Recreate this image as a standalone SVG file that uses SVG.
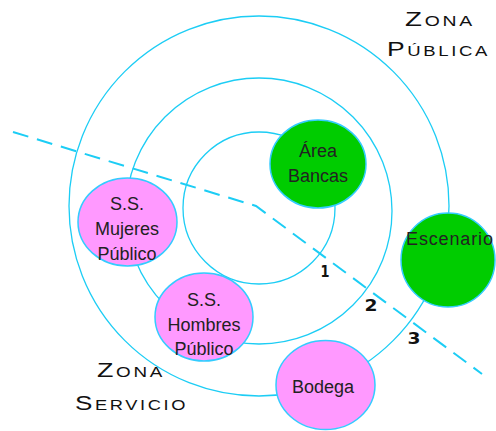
<svg xmlns="http://www.w3.org/2000/svg" width="496" height="431" viewBox="0 0 496 431">
<style>
.ring{fill:none;stroke:#1ccdf5;stroke-width:1.3}
.dash{fill:none;stroke:#1ccdf5;stroke-width:2;stroke-dasharray:16 9}
.green{fill:#00cc00;stroke:#33ccff;stroke-width:1.5}
.pink{fill:#ff99ff;stroke:#33ccff;stroke-width:1.5}
.lbl{font-family:"Liberation Sans",Arial,sans-serif;font-size:18px;fill:#222;text-anchor:middle}
.zone{font-family:"Liberation Sans",Arial,sans-serif;font-size:20px;font-variant:small-caps;letter-spacing:2px;fill:#111}
.num{font-family:"DejaVu Sans",sans-serif;font-weight:bold;font-size:16px;fill:#111;text-anchor:middle}
</style>
<rect width="496" height="431" fill="#fff"/>
<g id="rings">
<circle class="ring" cx="259" cy="206" r="190"/>
<circle class="ring" cx="259" cy="211" r="133"/>
<circle class="ring" cx="259" cy="208" r="76"/>
</g>
<g id="connectors">
<path class="dash" d="M13,132 L256,206 L482,374"/>
</g>
<g id="area-bancas">
<ellipse class="green" cx="318" cy="164" rx="48" ry="44"/>
<text class="lbl" x="318" y="157">Área</text>
<text class="lbl" x="318" y="182">Bancas</text>
</g>
<g id="escenario">
<circle class="green" cx="448" cy="260" r="47"/>
<text class="lbl" x="406" y="245" style="text-anchor:start" textLength="87">Escenario</text>
</g>
<g id="ss-mujeres">
<ellipse class="pink" cx="127.5" cy="222" rx="49.5" ry="44"/>
<text class="lbl" x="127" y="210">S.S.</text>
<text class="lbl" x="127" y="235">Mujeres</text>
<text class="lbl" x="127" y="260">Público</text>
</g>
<g id="ss-hombres">
<ellipse class="pink" cx="204" cy="317" rx="49" ry="44"/>
<text class="lbl" x="204" y="306">S.S.</text>
<text class="lbl" x="204" y="331">Hombres</text>
<text class="lbl" x="204" y="355">Público</text>
</g>
<g id="bodega">
<ellipse class="pink" cx="325.5" cy="385" rx="49.5" ry="44.5"/>
<text class="lbl" x="323" y="393">Bodega</text>
</g>
<g id="labels">
<text class="zone" x="405" y="26" textLength="70" lengthAdjust="spacingAndGlyphs">Zona</text>
<text class="zone" x="387" y="56" textLength="103" lengthAdjust="spacingAndGlyphs">Pública</text>
<text class="zone" x="97" y="377" textLength="68" lengthAdjust="spacingAndGlyphs">Zona</text>
<text class="zone" x="75" y="410" textLength="113" lengthAdjust="spacingAndGlyphs">Servicio</text>
<text class="num" x="325" y="277" textLength="9" lengthAdjust="spacingAndGlyphs">1</text>
<text class="num" x="371" y="311" textLength="13" lengthAdjust="spacingAndGlyphs">2</text>
<text class="num" x="414" y="344" textLength="13" lengthAdjust="spacingAndGlyphs">3</text>
</g>
</svg>
